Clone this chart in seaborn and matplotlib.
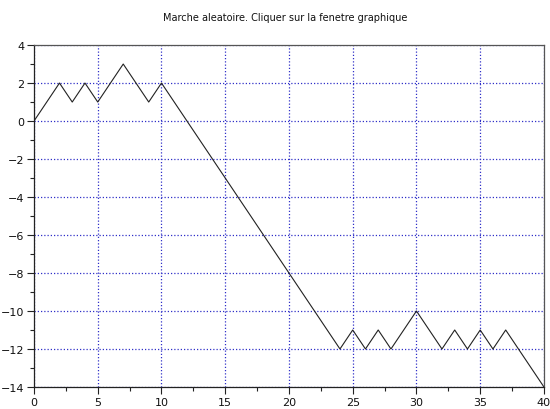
import matplotlib
matplotlib.use("Agg")
import matplotlib.pyplot as plt
import seaborn as sns
import pandas as pd
from matplotlib.ticker import MultipleLocator

steps = list(range(0, 41))
positions = [0, 1, 2, 1, 2, 1, 2, 3, 2, 1, 2, 1, 0, -1, -2, -3, -4, -5, -6, -7, -8,
             -9, -10, -11, -12, -11, -12, -11, -12, -11, -10, -11, -12, -11, -12,
             -11, -12, -11, -12, -13, -14]
title = "Marche aleatoire. Cliquer sur la fenetre graphique"

df = pd.DataFrame({"x": steps, "y": positions})

sns.set_style("white")
plt.rcParams['font.family'] = ['DejaVu Sans']

fig = plt.figure(figsize=(5.5, 4.1), dpi=100)
ax = fig.add_axes([0.0618, 0.0537, 0.9272, 0.834])
sns.lineplot(data=df, x="x", y="y", ax=ax, color="#222222", linewidth=0.8)

ax.set_xlim(0, 40)
ax.set_ylim(-14, 4)
ax.xaxis.set_major_locator(MultipleLocator(5))
ax.xaxis.set_minor_locator(MultipleLocator(2.5))
ax.yaxis.set_major_locator(MultipleLocator(2))
ax.yaxis.set_minor_locator(MultipleLocator(1))
ax.grid(True, which="major", color="#3030c8", linestyle=(0, (1, 1.6)), linewidth=0.9)
ax.set_axisbelow(True)
for s in ["top", "right"]:
    ax.spines[s].set_color("#555555")
    ax.spines[s].set_linewidth(0.9)
for s in ["left", "bottom"]:
    ax.spines[s].set_color("#222222")
    ax.spines[s].set_linewidth(0.9)
ax.tick_params(which="major", direction="out", length=5, width=0.8, color="#222222",
               labelsize=8, pad=2, bottom=True, left=True, labelcolor="#111111")
ax.tick_params(which="minor", direction="out", length=3, width=0.8, color="#222222",
               bottom=True, left=True)
ax.set_xlabel("")
ax.set_ylabel("")
fig.text(0.518, 0.955, title, ha="center", va="center", fontsize=7, color="#111111")

fig.savefig("out.png", dpi=100)
